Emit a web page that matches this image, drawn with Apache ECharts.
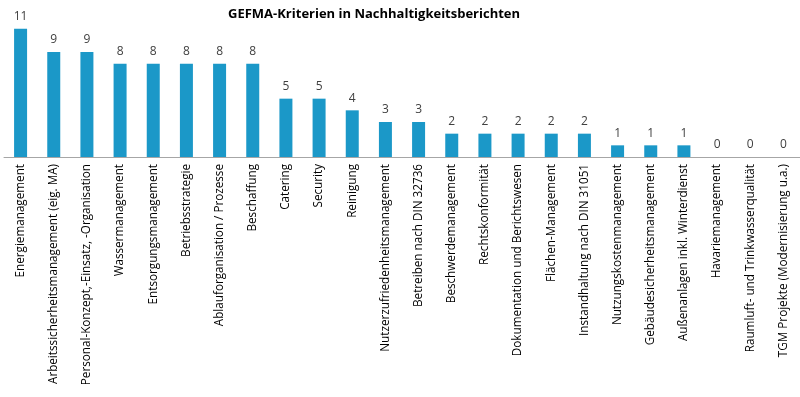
<!DOCTYPE html>
<html>
<head>
<meta charset="utf-8">
<script src="https://cdn.jsdelivr.net/npm/echarts@6/dist/echarts.min.js"></script>
<style>
html,body{margin:0;padding:0;background:#fff;}
#main{width:800px;height:397px;}
</style>
</head>
<body>
<div id="main"></div>
<script>
// Kategorien (x-Achse)
var kategorien = [
    'Energiemanagement',
    'Arbeitssicherheitsmanagement (eig. MA)',
    'Personal-Konzept,-Einsatz, -Organisation',
    'Wassermanagement',
    'Entsorgungsmanagement',
    'Betriebsstrategie',
    'Ablauforganisation / Prozesse',
    'Beschaffung',
    'Catering',
    'Security',
    'Reinigung',
    'Nutzerzufriedenheitsmanagement',
    'Betreiben nach DIN 32736',
    'Beschwerdemanagement',
    'Rechtskonformität',
    'Dokumentation und Berichtswesen',
    'Flächen-Management',
    'Instandhaltung nach DIN 31051',
    'Nutzungskostenmanagement',
    'Gebäudesicherheitsmanagement',
    'Außenanlagen inkl. Winterdienst',
    'Havariemanagement',
    'Raumluft- und Trinkwasserqualität',
    'TGM Projekte (Modernisierung u.a.)'
];
// Anzahl Nennungen
var anzahl = [11, 9, 9, 8, 8, 8, 8, 8, 5, 5, 4, 3, 3, 2, 2, 2, 2, 2, 1, 1, 1, 0, 0, 0];

var myChart = echarts.init(document.getElementById('main'));
var option = {
    animation: false,
    title: {
        text: 'GEFMA-Kriterien in Nachhaltigkeitsberichten',
        left: 223,
        top: 3,
        textStyle: {
            fontFamily: 'Open Sans',
            fontSize: 13,
            fontWeight: 'bold',
            color: '#000'
        }
    },
    grid: {
        left: 4,
        right: 0,
        top: 17,
        bottom: 240,
        containLabel: false
    },
    xAxis: {
        type: 'category',
        data: kategorien,
        axisLine: {lineStyle: {color: '#a6a6a6'}},
        axisTick: {show: false},
        axisLabel: {
            rotate: 90,
            interval: 0,
            margin: 7,
            color: '#000',
            fontFamily: 'Open Sans',
            fontSize: 11.7
        }
    },
    yAxis: {
        type: 'value',
        min: 0,
        max: 12,
        show: false
    },
    series: [{
        type: 'bar',
        data: anzahl,
        barWidth: 13,
        itemStyle: {color: '#1b98c8'},
        label: {
            show: true,
            position: 'top',
            distance: 6,
            color: '#404040',
            fontFamily: 'Open Sans',
            fontSize: 12
        }
    }]
};
myChart.setOption(option);
</script>
</body>
</html>
